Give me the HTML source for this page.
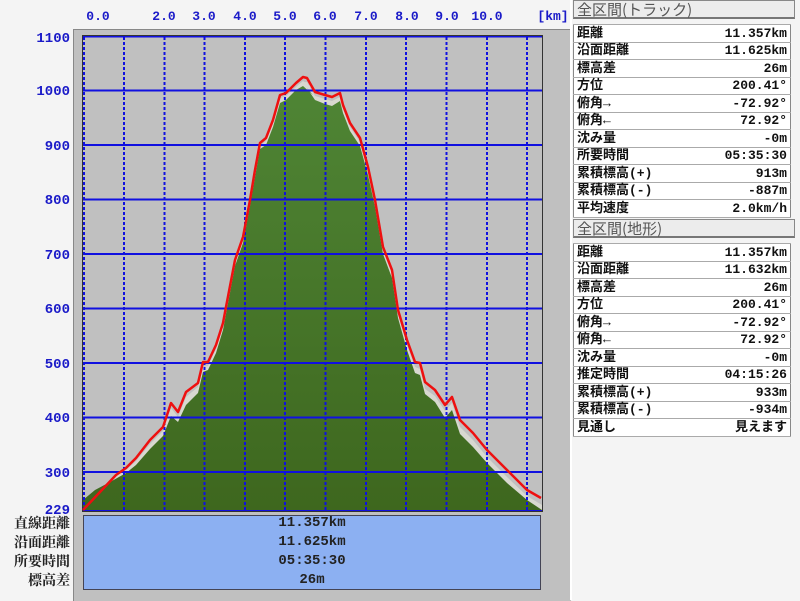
<!DOCTYPE html>
<html><head><meta charset="utf-8"><style>
body{margin:0;width:800px;height:600px;overflow:hidden;background:#f4f4f4;position:relative;font-family:"Liberation Mono","Noto Sans CJK JP",monospace;}
.a{position:absolute;}
.xl{position:absolute;top:9px;color:#1a1ac8;font:bold 13px "Liberation Mono",monospace;transform:translateX(-50%);}
.yl{position:absolute;right:730px;color:#1a1ac8;font:bold 14px "Liberation Mono",monospace;}
.bl{position:absolute;right:730px;font:bold 14px "Liberation Serif","Noto Serif CJK SC",serif;color:#222;}
.hd{position:absolute;left:573px;width:222px;height:19px;background:#ececec;border:1px solid #888;border-bottom:2px solid #777;font:15px "Noto Sans CJK JP",sans-serif;color:#555;line-height:18px;padding-left:3px;box-sizing:border-box;}
table{position:absolute;left:573px;width:218px;border-collapse:collapse;background:#fff;font:bold 13px "Liberation Mono","Noto Sans CJK JP",sans-serif;color:#111;border:1px solid #888;}
td{border-top:1px solid #aaa;border-bottom:1px solid #aaa;padding:0 3px;height:16.5px;line-height:15px;white-space:nowrap;}
td+td{text-align:right;}
.bt{position:absolute;left:83px;width:458px;text-align:center;font:bold 14px "Liberation Mono",monospace;color:#222;}
</style></head><body>
<div class="a" style="left:73px;top:29px;width:497px;height:571px;background:#c0c0c0;border-left:1px solid #888;border-top:1px solid #888;"></div>
<div class="a" style="left:570px;top:0;width:2px;height:600px;background:#fff;"></div>
<svg class="a" style="left:0;top:0" width="800" height="600">
<defs><linearGradient id="g" x1="0" y1="0" x2="0" y2="1"><stop offset="0" stop-color="#4f8535"/><stop offset="1" stop-color="#3e671e"/></linearGradient></defs>
<rect x="83" y="36" width="459" height="475" fill="#c0c0c0"/>
<polygon fill="#d8d8d0" points="83,511 83,502 100,489 116,476 126,470 136,461 150,444 163,431 171,408 178,417 186,397 198,387 203,367 208,366 216,349 223,327 226,311 235,264 243,240 250,204 255,174 260,146 266,141 273,123 280,98 286,96 296,87 303,81 313,88 300,83 307,82 315,96 325,99 332,101 340,97 343,109 350,127 360,142 368,171 375,204 383,251 392,274 398,314 407,345 415,367 420,369 425,389 435,396 445,411 452,403 460,427 473,440 487,457 507,477 527,496 542,505 542,511"/>
<polygon fill="url(#g)" points="83,511 83,500 95,490 110,482 126,473 136,465 150,449 163,436 171,416 178,422 186,405 198,393 203,372 208,370 216,353 223,330 226,314 235,266 243,243 250,206 255,177 260,149 266,145 273,127 280,103 286,100 296,90 303,86 313,95 307,88 315,100 325,104 332,106 340,101 343,113 350,131 360,146 368,175 375,207 383,254 392,278 398,318 407,350 415,373 420,375 425,394 435,402 445,418 452,410 460,434 473,447 487,463 507,483 527,500 542,510 542,511"/>
<g stroke="#1010e0" stroke-width="2">
<line x1="83" y1="36.5" x2="542" y2="36.5"/><line x1="83" y1="511" x2="542" y2="511"/>
<line x1="83" y1="90.5" x2="542" y2="90.5"/><line x1="83" y1="145" x2="542" y2="145"/><line x1="83" y1="199.5" x2="542" y2="199.5"/><line x1="83" y1="254" x2="542" y2="254"/><line x1="83" y1="308.5" x2="542" y2="308.5"/><line x1="83" y1="363" x2="542" y2="363"/><line x1="83" y1="417.5" x2="542" y2="417.5"/><line x1="83" y1="472" x2="542" y2="472"/>
</g>
<g stroke="#1010e0" stroke-width="2" stroke-dasharray="3,2">
<line x1="84" y1="37" x2="84" y2="511"/><line x1="124" y1="37" x2="124" y2="511"/><line x1="164.5" y1="37" x2="164.5" y2="511"/><line x1="204.5" y1="37" x2="204.5" y2="511"/><line x1="245" y1="37" x2="245" y2="511"/><line x1="285" y1="37" x2="285" y2="511"/><line x1="325.5" y1="37" x2="325.5" y2="511"/><line x1="366" y1="37" x2="366" y2="511"/><line x1="406" y1="37" x2="406" y2="511"/><line x1="446.5" y1="37" x2="446.5" y2="511"/><line x1="487" y1="37" x2="487" y2="511"/><line x1="527" y1="37" x2="527" y2="511"/>
</g>
<rect x="82.5" y="35.5" width="460" height="476" fill="none" stroke="#333" stroke-width="1"/>
<polyline fill="none" stroke="#ee1010" stroke-width="2.5" stroke-linejoin="round" points="83,510 100,492 116,475 126,468 136,458 150,440 163,427 171,403 178,412 186,392 198,383 203,362 208,362 216,345 223,323 226,307 235,260 243,237 250,200 255,170 260,143 266,138 273,120 280,95 286,93 296,83 303,77 307,78 315,92 325,95 332,97 340,93 343,105 350,123 360,138 368,167 375,200 383,247 392,270 398,310 407,340 415,362 420,363 425,382 435,390 445,405 452,397 460,420 473,433 487,450 507,470 527,490 541,498"/>
<rect x="83.5" y="515.5" width="457" height="74" fill="#8cb0f2" stroke="#445" stroke-width="1"/>
</svg>
<div class="xl" style="left:98px">0.0</div><div class="xl" style="left:164px">2.0</div><div class="xl" style="left:204px">3.0</div><div class="xl" style="left:245px">4.0</div><div class="xl" style="left:285px">5.0</div><div class="xl" style="left:325px">6.0</div><div class="xl" style="left:366px">7.0</div><div class="xl" style="left:407px">8.0</div><div class="xl" style="left:447px">9.0</div><div class="xl" style="left:487px">10.0</div><div class="xl" style="left:553px">[km]</div>
<div class="yl" style="top:31px">1100</div><div class="yl" style="top:84px">1000</div><div class="yl" style="top:139px">900</div><div class="yl" style="top:193px">800</div><div class="yl" style="top:248px">700</div><div class="yl" style="top:302px">600</div><div class="yl" style="top:357px">500</div><div class="yl" style="top:411px">400</div><div class="yl" style="top:466px">300</div><div class="yl" style="top:503px">229</div>
<div class="bl" style="top:513px">直線距離</div><div class="bl" style="top:532px">沿面距離</div><div class="bl" style="top:551px">所要時間</div><div class="bl" style="top:570px">標高差</div>
<div class="bt" style="top:515px">11.357km</div><div class="bt" style="top:534px">11.625km</div><div class="bt" style="top:553px">05:35:30</div><div class="bt" style="top:572px">26m</div>
<div class="hd" style="top:0">全区間(トラック)</div>
<table style="top:24px"><tr><td>距離</td><td>11.357km</td></tr><tr><td>沿面距離</td><td>11.625km</td></tr><tr><td>標高差</td><td>26m</td></tr><tr><td>方位</td><td>200.41°</td></tr><tr><td>俯角→</td><td>-72.92°</td></tr><tr><td>俯角←</td><td>72.92°</td></tr><tr><td>沈み量</td><td>-0m</td></tr><tr><td>所要時間</td><td>05:35:30</td></tr><tr><td>累積標高(+)</td><td>913m</td></tr><tr><td>累積標高(-)</td><td>-887m</td></tr><tr><td>平均速度</td><td>2.0km/h</td></tr></table>
<div class="hd" style="top:219px">全区間(地形)</div>
<table style="top:243px"><tr><td>距離</td><td>11.357km</td></tr><tr><td>沿面距離</td><td>11.632km</td></tr><tr><td>標高差</td><td>26m</td></tr><tr><td>方位</td><td>200.41°</td></tr><tr><td>俯角→</td><td>-72.92°</td></tr><tr><td>俯角←</td><td>72.92°</td></tr><tr><td>沈み量</td><td>-0m</td></tr><tr><td>推定時間</td><td>04:15:26</td></tr><tr><td>累積標高(+)</td><td>933m</td></tr><tr><td>累積標高(-)</td><td>-934m</td></tr><tr><td>見通し</td><td>見えます</td></tr></table>
</body></html>
